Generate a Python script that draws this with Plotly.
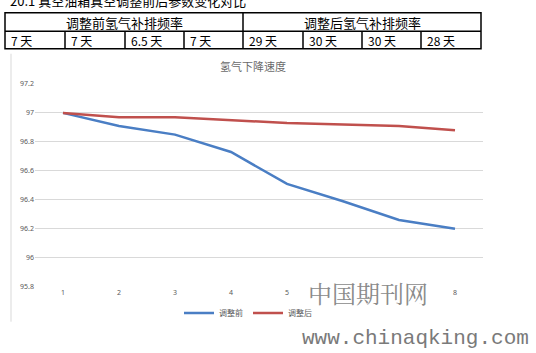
import plotly.graph_objects as go

W, H = 536, 353
x_cats = [1, 2, 3, 4, 5, 6, 7, 8]
# labels 6 and 7 are hidden under the watermark in the reference
x_ticktext = ["1", "2", "3", "4", "5", "", "", "8"]
before_vals = [97.00, 96.91, 96.85, 96.73, 96.51, 96.39, 96.26, 96.20]
after_vals = [97.00, 96.97, 96.97, 96.95, 96.93, 96.92, 96.91, 96.88]
series_names = ["调整前", "调整后"]
y_ticks = [95.8, 96, 96.2, 96.4, 96.6, 96.8, 97, 97.2]
y_ticktext = ["95.8", "96", "96.2", "96.4", "96.6", "96.8", "97", "97.2"]
chart_title = "氢气下降速度"
table_title = "20.1 真空油箱真空调整前后参数变化对比"
table_headers = ["调整前氢气补排频率", "调整后氢气补排频率"]
table_cells = ["7 天", "7 天", "6.5 天", "7 天", "29 天", "30 天", "30 天", "28 天"]

def px(x):
    return x / W

def py(y):
    return 1 - y / H

fig = go.Figure()
fig.add_trace(go.Scatter(x=x_cats, y=before_vals, mode="lines", name=series_names[0],
                         line=dict(color="#4a7ec4", width=2.5)))
fig.add_trace(go.Scatter(x=x_cats, y=after_vals, mode="lines", name=series_names[1],
                         line=dict(color="#c0504d", width=2.5)))

shapes = []
tl, tr, tt, tm, tb = 5, 481, 8, 27, 45
shapes.append(dict(type="rect", xref="paper", yref="paper", x0=px(tl), x1=px(tr), y0=py(tb), y1=py(tt),
                   line=dict(color="black", width=1.5)))
shapes.append(dict(type="line", xref="paper", yref="paper", x0=px(tl), x1=px(tr), y0=py(tm), y1=py(tm),
                   line=dict(color="black", width=1.5)))
colx = [5, 65, 125, 184, 243, 303, 362, 421, 481]
for cx in colx[1:-1]:
    y0 = py(tb)
    y1 = py(tt) if cx == 243 else py(tm)
    shapes.append(dict(type="line", xref="paper", yref="paper", x0=px(cx), x1=px(cx), y0=y0, y1=y1,
                       line=dict(color="black", width=1.5)))
shapes.append(dict(type="line", xref="paper", yref="paper", x0=px(11), x1=px(11), y0=py(50), y1=py(325),
                   line=dict(color="#d9d9d9", width=1)))

def ann(text, x, y, size, color="black", family="Noto Sans CJK SC", xanchor="center"):
    return dict(text=text, xref="paper", yref="paper", x=px(x), y=py(y), xanchor=xanchor,
                yanchor="middle", showarrow=False, font=dict(family=family, size=size, color=color))

annotations = []
annotations.append(ann(table_title, 8, -5, 13, xanchor="left"))
annotations.append(ann(table_headers[0], 124, 17.5, 13))
annotations.append(ann(table_headers[1], 362, 17.5, 13))
for i, t in enumerate(table_cells):
    annotations.append(ann(t, colx[i] + 4, 36.5, 12, xanchor="left"))
annotations.append(ann(chart_title, 253, 63, 11, color="#6b6b6b"))
annotations.append(ann("中国期刊网", 368, 295, 24, color="#8a8a8a",
                       family="Noto Serif CJK SC, Noto Sans CJK SC"))
annotations.append(ann("www.chinaqking.com", 415, 342, 21, color="#7a7a7a",
                       family="Liberation Mono, DejaVu Sans Mono"))

fig.update_layout(
    width=W, height=H,
    margin=dict(l=0, r=0, t=0, b=0),
    paper_bgcolor="white", plot_bgcolor="white",
    shapes=shapes, annotations=annotations,
    showlegend=True,
    legend=dict(orientation="h", x=px(248), y=py(316), xanchor="center", yanchor="middle",
                font=dict(family="Noto Sans CJK SC", size=8, color="#595959"),
                itemwidth=30, tracegroupgap=0, bgcolor="rgba(0,0,0,0)"),
    xaxis=dict(domain=[px(35), px(483)], range=[0.5, 8.5], tickvals=x_cats,
               ticktext=x_ticktext, showgrid=False, zeroline=False,
               showline=False, ticks="", tickfont=dict(family="Noto Sans", size=7, color="#595959")),
    yaxis=dict(domain=[py(289), py(81)], range=[95.8, 97.2], tickvals=y_ticks, ticktext=y_ticktext,
               showgrid=True, gridcolor="#d9d9d9", gridwidth=1, zeroline=False, showline=False,
               ticks="", tickfont=dict(family="Noto Sans", size=7, color="#595959")),
)

fig.write_html("out.html")
